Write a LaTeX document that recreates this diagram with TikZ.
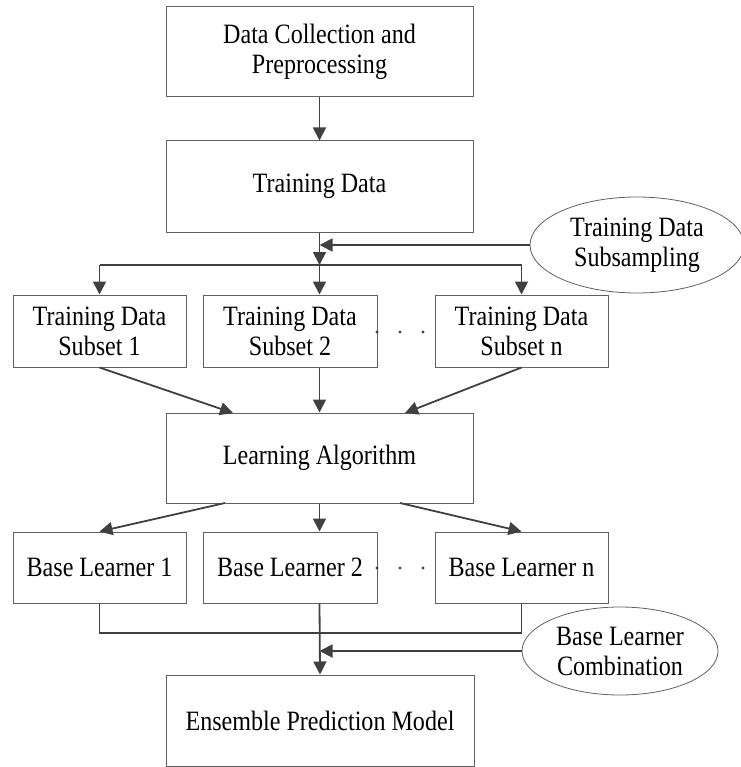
\documentclass[tikz,border=0pt]{standalone}
\usepackage{fontspec}
\setmainfont{Liberation Serif}
\newfontfamily\condfont[FakeStretch=0.86]{Liberation Serif}
\usetikzlibrary{shapes.geometric,arrows.meta}
\definecolor{boxline}{HTML}{606060}
\definecolor{arrline}{HTML}{404040}
\tikzset{
  txt/.style={align=center, font=\condfont\fontsize{28}{30}\selectfont},
  mainbox/.style={txt, draw=boxline, line width=1pt, rectangle, minimum width=307pt, minimum height=90pt, inner sep=0pt},
  subbox/.style={txt, draw=boxline, line width=1pt, rectangle, minimum width=173pt, minimum height=72pt, inner sep=0pt},
  ellbox/.style={txt, draw=boxline, line width=0.8pt, ellipse, inner sep=0pt},
  conn/.style={draw=arrline, line width=1.8pt},
  arr/.style={conn, -{Triangle[length=13pt,width=13pt]}},
}
\begin{document}
\begin{tikzpicture}[x=1pt,y=-1pt]
\useasboundingbox (0,0) rectangle (740,767);
% main column
\node[mainbox] (n1) at (319.5,52) {Data Collection and\\Preprocessing};
\node[mainbox, minimum height=91pt] (n2) at (319.5,186.5) {Training Data};
\node[ellbox, minimum width=214pt, minimum height=96pt] (e1) at (637,245) {Training Data\\Subsampling};
% subsets
\node[subbox] (s1) at (99.5,331) {Training Data\\Subset 1};
\node[subbox, minimum width=174pt] (s2) at (290,331) {Training Data\\Subset 2};
\node[subbox] (sn) at (521.5,331) {Training Data\\Subset n};
% learning algorithm
\node[mainbox] (la) at (319.5,458) {Learning Algorithm};
% base learners
\node[subbox, minimum height=71pt] (b1) at (99.5,567.5) {Base Learner 1};
\node[subbox, minimum height=71pt, minimum width=174pt] (b2) at (290,567.5) {Base Learner 2};
\node[subbox, minimum height=71pt] (bn) at (521.5,567.5) {Base Learner n};
\node[ellbox, minimum width=196pt, minimum height=88pt] (e2) at (620,651) {Base Learner\\Combination};
\node[mainbox, minimum width=308pt, minimum height=91pt] (ep) at (320,720.5) {Ensemble Prediction Model};

% coordinates
\coordinate (j1) at (319.5,265);
\coordinate (la1) at (233,413);
\coordinate (la3) at (405,413);
\coordinate (lb1) at (225,503);
\coordinate (lb3) at (400,503);
\coordinate (c1) at (99.5,633);
\coordinate (c3) at (521.5,633);

% connectors
\draw[arr] (n1) -- (n2);
\draw[arr] (n2.south) -- (j1);
\draw[arr] (e1.west) -- (e1.west -| j1);
\draw[conn] (s1.north |- j1) -- (sn.north |- j1);
\draw[arr] (s1.north |- j1) -- (s1.north);
\draw[arr] (j1) -- (j1 |- s2.north);
\draw[arr] (sn.north |- j1) -- (sn.north);

\draw[arr] (s1.south) -- (la1);
\draw[arr] (j1 |- s2.south) -- (la.north);
\draw[arr] (sn.south) -- (la3);

\draw[arr] (lb1) -- (b1.north);
\draw[arr] (la.south) -- (j1 |- b2.north);
\draw[arr] (lb3) -- (bn.north);

\draw[conn, line width=1.3pt] (b1.south) -- (c1) -- (c3) -- (bn.south);
\draw[arr] (j1 |- b2.south) -- (ep.north);
\draw[arr] (e2.west) -- (e2.west -| j1);

% ellipsis dots
\foreach \y in {332,568}{
  \foreach \x in {377,400,423}{
    \fill[arrline] (\x,\y) circle (1.7pt);
  }
}
\end{tikzpicture}
\end{document}
